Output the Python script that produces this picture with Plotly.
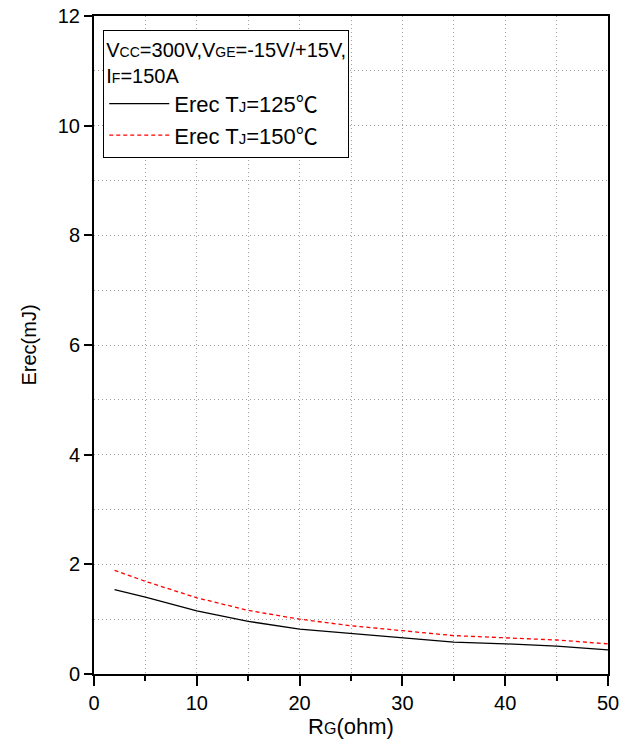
import plotly.graph_objects as go

rg = [2, 5, 10, 15, 20, 25, 30, 35, 40, 45, 50]
erec_125 = [1.54, 1.40, 1.15, 0.96, 0.82, 0.74, 0.65, 0.58, 0.55, 0.51, 0.44]
erec_150 = [1.89, 1.69, 1.39, 1.16, 1.00, 0.88, 0.79, 0.70, 0.66, 0.62, 0.55]

x_ticks = [0, 10, 20, 30, 40, 50]
y_ticks = [0, 2, 4, 6, 8, 10, 12]

S = "<span style='font-size:15px'>{}</span>"
S14 = "<span style='font-size:14px'>{}</span>"
DEG = "<span style='font-family:Noto Sans CJK SC'>℃</span>"
name125 = "Erec T" + S.format("J") + "=125" + DEG
name150 = "Erec T" + S.format("J") + "=150" + DEG
legend_title = ("V" + S14.format("CC") + "=300V,V" + S14.format("GE") + "=-15V/+15V,<br>"
                "I" + S14.format("F") + "=150A")

fig = go.Figure()
fig.add_trace(go.Scatter(x=rg, y=erec_125, mode="lines", name=name125,
                         line=dict(color="black", width=1.3)))
fig.add_trace(go.Scatter(x=rg, y=erec_150, mode="lines", name=name150,
                         line=dict(color="red", width=1.3, dash="4px,3px")))

GRID = "#a0a0a0"
GD = "1px,3px"
fig.update_xaxes(range=[0, 50], tickvals=x_ticks, ticks="outside", ticklen=10, tickwidth=2,
                 tickcolor="black", showline=True, linecolor="black", linewidth=2, mirror=True,
                 zeroline=False, showgrid=True, gridcolor=GRID, griddash=GD, gridwidth=1,
                 automargin=False,
                 minor=dict(dtick=5, tick0=0, ticks="outside", ticklen=5, tickwidth=2,
                            tickcolor="black", showgrid=True, gridcolor=GRID, griddash=GD),
                 title=dict(text="R" + "<span style='font-size:16px'>G</span>" + "(ohm)",
                            font=dict(size=22), standoff=6),
                 tickfont=dict(size=20))
fig.update_yaxes(range=[0, 12], tickvals=y_ticks, ticks="outside", ticklen=8, tickwidth=2,
                 tickcolor="black", showline=True, linecolor="black", linewidth=2, mirror=True,
                 zeroline=False, showgrid=True, gridcolor=GRID, griddash=GD, gridwidth=1,
                 automargin=False,
                 minor=dict(dtick=1, tick0=0, ticks="", showgrid=True, gridcolor=GRID,
                            griddash=GD),
                 title=dict(text="Erec(mJ)", font=dict(size=20), standoff=16),
                 tickfont=dict(size=20))

fig.update_layout(
    width=629, height=744,
    margin=dict(l=94, r=21, t=16, b=70),
    paper_bgcolor="white", plot_bgcolor="white",
    font=dict(family="Liberation Sans, Arial, sans-serif", color="black", size=20),
    showlegend=True,
    legend=dict(x=0.018, y=0.979, xanchor="left", yanchor="top",
                bgcolor="white", bordercolor="black", borderwidth=1,
                title=dict(text=legend_title, font=dict(size=20)),
                font=dict(size=22), itemwidth=60, tracegroupgap=0),
)

fig.write_html("out.html", config={"displayModeBar": False},
               post_script="document.body.style.margin='0';")
